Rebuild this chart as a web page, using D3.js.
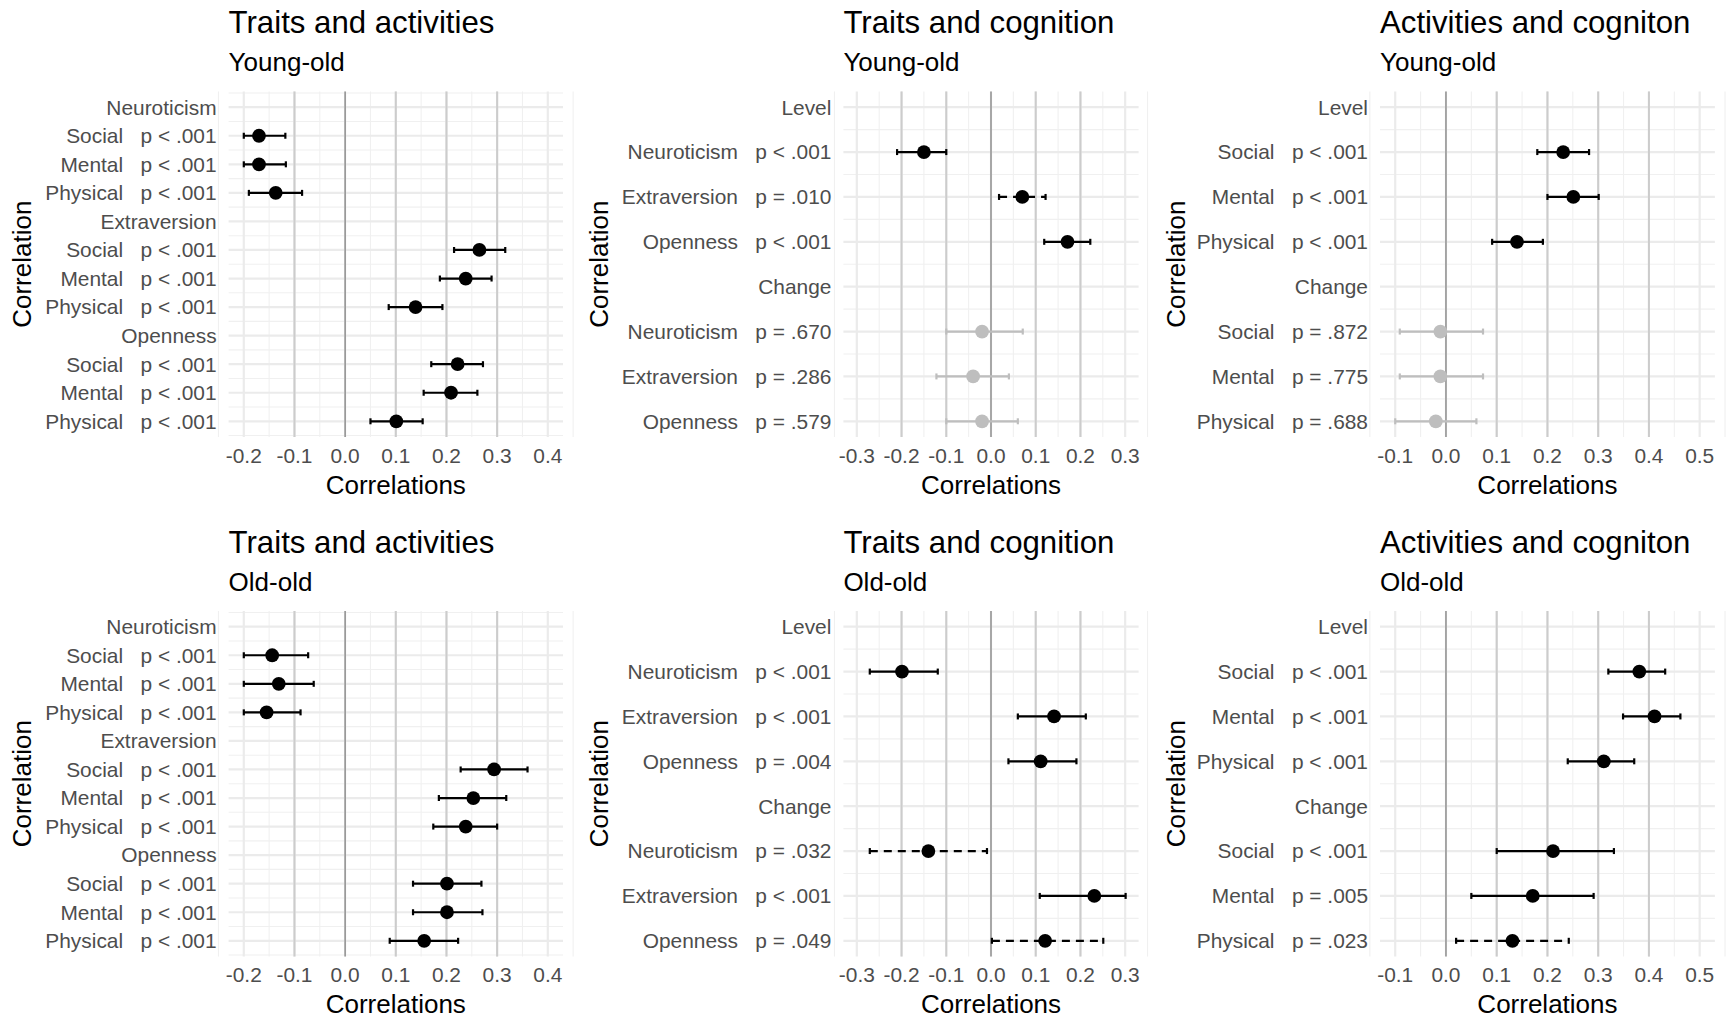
<!DOCTYPE html>
<html>
<head>
<meta charset="utf-8">
<script src="https://cdn.jsdelivr.net/npm/d3@7"></script>
<style>
  html, body { margin: 0; padding: 0; background: #fff; }
  svg text { font-family: "Liberation Sans", Arial, sans-serif; white-space: pre; }
</style>
</head>
<body>
<svg id="chart"></svg>
<script>
// ---- data ----
const titles = ['Traits and activities', 'Traits and cognition', 'Activities and cogniton']
const groups = ['Young-old', 'Old-old']
const xLimits = [[-0.2, 0.4], [-0.3, 0.3], [-0.1, 0.5]]
const xTicks = [
  [-0.2, -0.1, 0, 0.1, 0.2, 0.3, 0.4],
  [-0.3, -0.2, -0.1, 0, 0.1, 0.2, 0.3],
  [-0.1, 0, 0.1, 0.2, 0.3, 0.4, 0.5]
]
const refLines = [[-0.1, 0.1, 0.2, 0.3], [-0.2, -0.1, 0.1, 0.2], [0.1, 0.2, 0.3, 0.4]]

// Traits and activities
const taLabels = ['Neuroticism', 'Social', 'Mental', 'Physical', 'Extraversion', 'Social', 'Mental', 'Physical', 'Openness', 'Social', 'Mental', 'Physical']
const taYoungP = [null, 'p < .001', 'p < .001', 'p < .001', null, 'p < .001', 'p < .001', 'p < .001', null, 'p < .001', 'p < .001', 'p < .001']
const taYoungEst = [null, -0.17, -0.17, -0.137, null, 0.265, 0.238, 0.139, null, 0.222, 0.209, 0.101]
const taYoungLo = [null, -0.20, -0.20, -0.19, null, 0.215, 0.187, 0.086, null, 0.170, 0.155, 0.050]
const taYoungHi = [null, -0.118, -0.117, -0.085, null, 0.316, 0.289, 0.192, null, 0.272, 0.261, 0.153]
const taOldP = [null, 'p < .001', 'p < .001', 'p < .001', null, 'p < .001', 'p < .001', 'p < .001', null, 'p < .001', 'p < .001', 'p < .001']
const taOldEst = [null, -0.144, -0.131, -0.155, null, 0.294, 0.253, 0.238, null, 0.201, 0.201, 0.156]
const taOldLo = [null, -0.20, -0.20, -0.20, null, 0.228, 0.185, 0.174, null, 0.134, 0.134, 0.088]
const taOldHi = [null, -0.073, -0.062, -0.088, null, 0.360, 0.318, 0.300, null, 0.269, 0.271, 0.223]

// Traits and cognition
const tcLabels = ['Level', 'Neuroticism', 'Extraversion', 'Openness', 'Change', 'Neuroticism', 'Extraversion', 'Openness']
const tcYoungP = [null, 'p < .001', 'p = .010', 'p < .001', null, 'p = .670', 'p = .286', 'p = .579']
const tcYoungEst = [null, -0.15, 0.07, 0.171, null, -0.02, -0.04, -0.02]
const tcYoungLo = [null, -0.21, 0.018, 0.119, null, -0.10, -0.122, -0.10]
const tcYoungHi = [null, -0.10, 0.122, 0.222, null, 0.071, 0.040, 0.060]
const tcOldP = [null, 'p < .001', 'p < .001', 'p = .004', null, 'p = .032', 'p < .001', 'p = .049']
const tcOldEst = [null, -0.199, 0.141, 0.111, null, -0.14, 0.231, 0.121]
const tcOldLo = [null, -0.271, 0.060, 0.039, null, -0.271, 0.109, 0.002]
const tcOldHi = [null, -0.119, 0.212, 0.191, null, -0.009, 0.301, 0.251]

// Activities and cognition
const acLabels = ['Level', 'Social', 'Mental', 'Physical', 'Change', 'Social', 'Mental', 'Physical']
const acYoungP = [null, 'p < .001', 'p < .001', 'p < .001', null, 'p = .872', 'p = .775', 'p = .688']
const acYoungEst = [null, 0.231, 0.251, 0.14, null, -0.011, -0.011, -0.02]
const acYoungLo = [null, 0.180, 0.200, 0.091, null, -0.091, -0.091, -0.10]
const acYoungHi = [null, 0.282, 0.301, 0.191, null, 0.073, 0.073, 0.060]
const acOldP = [null, 'p < .001', 'p < .001', 'p < .001', null, 'p < .001', 'p = .005', 'p = .023']
const acOldEst = [null, 0.381, 0.411, 0.311, null, 0.211, 0.171, 0.131]
const acOldLo = [null, 0.320, 0.349, 0.240, null, 0.100, 0.050, 0.020]
const acOldHi = [null, 0.432, 0.462, 0.371, null, 0.331, 0.291, 0.242]

// ---- layout ----
const W = 1727, H = 1019
const panelLeft = [228.6, 843.4, 1380]
const panelRight = [563, 1138.6, 1714.9]
const yTitleX = [31.4, 608, 1185.2]
const rowTop = [91.5, 611]
const panelH = 345.5

const FONT_TITLE = 31.2, FONT_AXIS = 26, FONT_TICK = 20.9
const BLACK = '#000', GREY = '#bebebe', TEXT = '#4d4d4d'

const svg = d3.select('#chart').attr('width', W).attr('height', H)
svg.append('rect').attr('width', W).attr('height', H).attr('fill', '#fff')

function pValue(p) {
  if (p.includes('<')) return 0.0005
  return +p.split('=')[1]
}

function rowsFor(labels, ps, est, lo, hi) {
  return labels.map((name, i) => ({
    idx: i + 1,
    label: ps[i] ? `${name}   ${ps[i]}` : name,
    p: ps[i] ? pValue(ps[i]) : null,
    est: est[i], lo: lo[i], hi: hi[i]
  }))
}

const panelRows = [
  [rowsFor(taLabels, taYoungP, taYoungEst, taYoungLo, taYoungHi),
   rowsFor(tcLabels, tcYoungP, tcYoungEst, tcYoungLo, tcYoungHi),
   rowsFor(acLabels, acYoungP, acYoungEst, acYoungLo, acYoungHi)],
  [rowsFor(taLabels, taOldP, taOldEst, taOldLo, taOldHi),
   rowsFor(tcLabels, tcOldP, tcOldEst, tcOldLo, tcOldHi),
   rowsFor(acLabels, acOldP, acOldEst, acOldLo, acOldHi)]
]

const fmt = v => (Math.abs(v) < 1e-9 ? 0 : v).toFixed(1)

function drawPanel(r, c) {
  const rows = panelRows[r][c]
  const n = rows.length
  const top = rowTop[r], bottom = top + panelH
  const left = panelLeft[c], right = panelRight[c]
  const [lo, hi] = xLimits[c]
  const ex = (hi - lo) * 0.05
  const x = d3.scaleLinear().domain([lo - ex, hi + ex]).range([left, right])
  const ey = (n - 1) * 0.05
  const y = d3.scaleLinear().domain([1 - ey, n + ey]).range([top, bottom])

  const g = svg.append('g').attr('class', `panel-${r}-${c}`)

  // minor grid
  const minorX = d3.range(lo - 0.05, hi + 0.051, 0.05).filter(v => Math.abs(Math.round(v * 10) - v * 10) > 0.01)
  g.selectAll('line.vminor').data(minorX).enter().append('line')
    .attr('x1', d => x(d)).attr('x2', d => x(d)).attr('y1', top).attr('y2', bottom)
    .attr('stroke', '#f0f0f0').attr('stroke-width', 1.1)
  const minorY = d3.range(0.5, n + 1, 1).filter(v => y(v) >= top && y(v) <= bottom)
  g.selectAll('line.hminor').data(minorY).enter().append('line')
    .attr('x1', left).attr('x2', right).attr('y1', d => y(d)).attr('y2', d => y(d))
    .attr('stroke', '#f0f0f0').attr('stroke-width', 1.1)

  // major grid
  g.selectAll('line.vmajor').data(xTicks[c]).enter().append('line')
    .attr('x1', d => x(d)).attr('x2', d => x(d)).attr('y1', top).attr('y2', bottom)
    .attr('stroke', '#ebebeb').attr('stroke-width', 2.2)
  g.selectAll('line.hmajor').data(rows).enter().append('line')
    .attr('x1', left).attr('x2', right).attr('y1', d => y(d.idx)).attr('y2', d => y(d.idx))
    .attr('stroke', '#ebebeb').attr('stroke-width', 2.2)

  // reference lines
  g.selectAll('line.ref').data(refLines[c]).enter().append('line')
    .attr('x1', d => x(d)).attr('x2', d => x(d)).attr('y1', top).attr('y2', bottom)
    .attr('stroke', '#cccccc').attr('stroke-width', 2)
  g.append('line')
    .attr('x1', x(0)).attr('x2', x(0)).attr('y1', top).attr('y2', bottom)
    .attr('stroke', '#8a8a8a').attr('stroke-width', 1.4)

  // error bars and points
  const data = rows.filter(d => d.est != null)
  const colorOf = d => d.p < 0.05 ? BLACK : GREY
  const dashOf = d => (d.p >= 0.01 && d.p < 0.05) ? '8,6' : null

  const bars = g.selectAll('g.bar').data(data).enter().append('g').attr('class', 'bar')
  bars.append('line')
    .attr('x1', d => x(d.lo)).attr('x2', d => x(d.hi))
    .attr('y1', d => y(d.idx)).attr('y2', d => y(d.idx))
    .attr('stroke', colorOf).attr('stroke-width', 2.2)
    .attr('stroke-dasharray', dashOf)
  bars.selectAll('line.cap').data(d => [{ v: d.lo, d }, { v: d.hi, d }]).enter().append('line')
    .attr('class', 'cap')
    .attr('x1', e => x(e.v)).attr('x2', e => x(e.v))
    .attr('y1', e => y(e.d.idx) - 3).attr('y2', e => y(e.d.idx) + 3)
    .attr('stroke', e => colorOf(e.d)).attr('stroke-width', 2.2)
  bars.append('circle')
    .attr('cx', d => x(d.est)).attr('cy', d => y(d.idx)).attr('r', 6.9)
    .attr('fill', colorOf)

  // y labels
  g.selectAll('text.ylab').data(rows).enter().append('text')
    .attr('x', left - 12).attr('y', d => y(d.idx)).attr('dy', '0.35em')
    .attr('text-anchor', 'end')
    .style('font-size', FONT_TICK + 'px').style('fill', TEXT)
    .text(d => d.label)

  // x tick labels
  g.selectAll('text.xlab').data(xTicks[c]).enter().append('text')
    .attr('x', d => x(d)).attr('y', bottom + 25.5)
    .attr('text-anchor', 'middle')
    .style('font-size', FONT_TICK + 'px').style('fill', TEXT)
    .text(fmt)

  // axis titles
  g.append('text')
    .attr('x', (left + right) / 2).attr('y', bottom + 56.5)
    .attr('text-anchor', 'middle')
    .style('font-size', FONT_AXIS + 'px').style('fill', BLACK)
    .text('Correlations')
  g.append('text')
    .attr('transform', `translate(${yTitleX[c]},${(top + bottom) / 2}) rotate(-90)`)
    .attr('text-anchor', 'middle')
    .style('font-size', FONT_AXIS + 'px').style('fill', BLACK)
    .text('Correlation')

  // titles
  g.append('text')
    .attr('x', left).attr('y', top - 58.5)
    .style('font-size', FONT_TITLE + 'px').style('fill', BLACK)
    .text(titles[c])
  g.append('text')
    .attr('x', left).attr('y', top - 20.5)
    .style('font-size', FONT_AXIS + 'px').style('fill', BLACK)
    .text(groups[r])
}

for (let r = 0; r < 2; r++) {
  for (let c = 0; c < 3; c++) drawPanel(r, c)
}
</script>
</body>
</html>
